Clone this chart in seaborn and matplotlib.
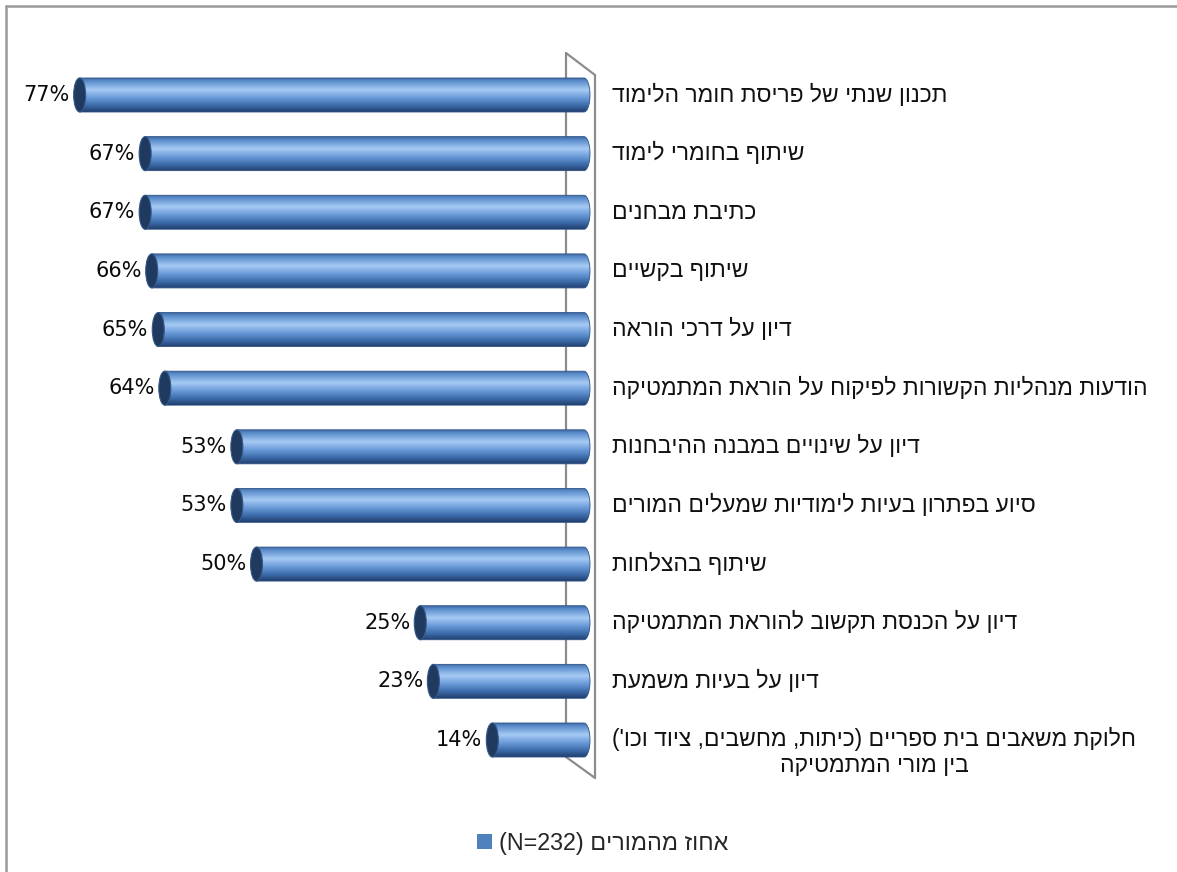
import re
import numpy as np
import pandas as pd
import matplotlib
matplotlib.use("Agg")
import matplotlib.pyplot as plt
from matplotlib.patches import Ellipse, PathPatch, Patch
from matplotlib.path import Path
from matplotlib.colors import LinearSegmentedColormap
from matplotlib.lines import Line2D
import seaborn as sns

# ---- data -------------------------------------------------------------
items = [
    "תכנון שנתי של פריסת חומר הלימוד",
    "שיתוף בחומרי לימוד",
    "כתיבת מבחנים",
    "שיתוף בקשיים",
    "דיון על דרכי הוראה",
    "הודעות מנהליות הקשורות לפיקוח על הוראת המתמטיקה",
    "דיון על שינויים במבנה ההיבחנות",
    "סיוע בפתרון בעיות לימודיות שמעלים המורים",
    "שיתוף בהצלחות",
    "דיון על הכנסת תקשוב להוראת המתמטיקה",
    "דיון על בעיות משמעת",
    "חלוקת משאבים בית ספריים (כיתות, מחשבים, ציוד וכו')\nבין מורי המתמטיקה",
]
percent = [77, 67, 67, 66, 65, 64, 53, 53, 50, 25, 23, 14]
series_name = "אחוז מהמורים (N=232)"


def _visual_line(s):
    """Reorder one right-to-left line into left-to-right drawing order."""
    runs = re.findall(r"[A-Za-z0-9][A-Za-z0-9=.]*[A-Za-z0-9]|[A-Za-z0-9]|[^A-Za-z0-9]+", s)
    mirror = str.maketrans("()", ")(")
    out = []
    for r in reversed(runs):
        if re.match(r"[A-Za-z0-9]", r):
            out.append(r)
        else:
            out.append(r[::-1].translate(mirror))
    return "".join(out)


def visual(s):
    return "\n".join(_visual_line(line) for line in s.split("\n"))


# ---- figure -----------------------------------------------------------
sns.set_theme(style="white")
plt.rcParams["font.family"] = ["Liberation Sans", "DejaVu Sans"]

W, H = 1177, 872
fig = plt.figure(figsize=(W / 100, H / 100), dpi=100)

# bar area: zero line at x=584px, 6.55 px per percent, rows 58.64px apart
px_per = 6.55
x_max, x_min = 88.0, -2.5
zero_px = 584.0
left_px = zero_px - x_max * px_per
right_px = zero_px - x_min * px_per
row_h = 58.64
top_px = 95 - row_h / 2
bot_px = 740 + row_h / 2
ax = fig.add_axes([left_px / W, 1 - bot_px / H, (right_px - left_px) / W, (bot_px - top_px) / H])

df = pd.DataFrame({"item": items, "pct": percent})
sns.barplot(data=df, x="pct", y="item", orient="h", width=0.58,
            color="#4F81BD", ax=ax)

ax.set_xlim(x_max, x_min)
ax.set_ylim(len(items) - 0.5, -0.5)
for s in ax.spines.values():
    s.set_visible(False)
ax.set_xticks([])
ax.set_yticks([])
ax.set_xlabel("")
ax.set_ylabel("")


def px2data(px, py):
    return (zero_px - px) / px_per, (py - 95) / row_h


# side wall of the category axis
wall_c = "#8C8C8C"
bx_top = px2data(566, 53)
fx_top = px2data(595, 75)
fx_bot = px2data(595, 778)
bx_bot = px2data(566, 757)
for (a, b) in [(bx_top, bx_bot), (bx_top, fx_top), (fx_top, fx_bot), (bx_bot, fx_bot)]:
    ax.add_line(Line2D([a[0], b[0]], [a[1], b[1]], color=wall_c, lw=1.6,
                       clip_on=False, zorder=0.5))

# cylinder shading
grad_cmap = LinearSegmentedColormap.from_list(
    "cyl",
    [(0.0, "#3A65A0"), (0.12, "#5F90CF"), (0.36, "#A6CAF3"),
     (0.58, "#6D9DDA"), (0.82, "#3C6BAA"), (1.0, "#223F6E")],
)
grad = np.linspace(0, 1, 64).reshape(-1, 1)

cap_w = 12.0 / px_per
bars = list(ax.patches)
for bar in bars:
    v = bar.get_width()
    y0 = bar.get_y()
    h = bar.get_height()
    yc = y0 + h / 2
    bar.set_visible(False)

    # body with rounded far end inside the wall
    t = np.linspace(-np.pi / 2, np.pi / 2, 40)
    arc_x = -np.cos(t) * cap_w / 2
    arc_y = yc + np.sin(t) * h / 2
    verts = [(v, y0), (0, y0)] + list(zip(arc_x, arc_y)) + [(0, y0 + h), (v, y0 + h), (v, y0)]
    clip = PathPatch(Path(verts, closed=True), transform=ax.transData,
                     facecolor="none", edgecolor="none")
    ax.add_patch(clip)
    im = ax.imshow(grad, cmap=grad_cmap, aspect="auto", origin="upper",
                   extent=(v, -cap_w / 2 - 0.1, y0 + h, y0), zorder=2,
                   interpolation="bilinear")
    im.set_clip_path(clip)
    ax.add_patch(PathPatch(Path(verts, closed=True), facecolor="none",
                           edgecolor="#2F5488", lw=0.6, zorder=2.1))

    # visible end of the cylinder
    ax.add_patch(Ellipse((v, yc), width=cap_w, height=h, facecolor="#1F3A5E",
                         edgecolor="#34588A", lw=0.8, zorder=3))

    ax.text(v + cap_w / 2 + 0.6, yc, f"{v:.0f}%", ha="right", va="center",
            fontsize=15, color="#0A0A0A", zorder=4, family="DejaVu Sans")

ax.set_xlim(x_max, x_min)
ax.set_ylim(len(items) - 0.5, -0.5)

# category labels to the right of the wall
for i, lab in enumerate(items):
    dy = -12 if "\n" in lab else 0
    ax.annotate(visual(lab), xy=(1, i), xycoords=("axes fraction", "data"),
                xytext=(612 - right_px, dy), textcoords="offset pixels",
                ha="left", va="center", multialignment="center",
                fontsize=16.5, color="#111111", annotation_clip=False)

# legend
handle = Patch(facecolor="#4F81BD", edgecolor="none")
fig.legend([handle], [visual(series_name)], loc="center",
           bbox_to_anchor=(603 / W, 1 - 843 / H), frameon=False, fontsize=16.8,
           handlelength=0.65, handleheight=0.65, handletextpad=0.3)

# chart frame
frame_c = "#9A9A9A"
fig.add_artist(Line2D([6 / W, 1], [1 - 6.5 / H, 1 - 6.5 / H], color=frame_c, lw=1.8,
                      transform=fig.transFigure))
fig.add_artist(Line2D([6 / W, 6 / W], [0, 1 - 6.5 / H], color=frame_c, lw=1.8,
                      transform=fig.transFigure))

fig.savefig("out.png", dpi=100, facecolor="white")
